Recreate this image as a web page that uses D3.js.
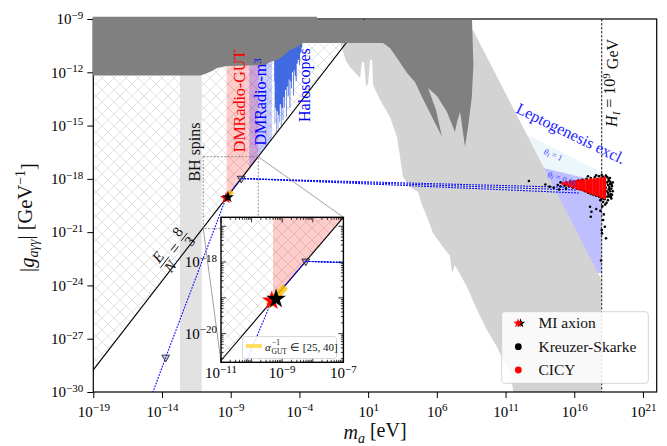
<!DOCTYPE html>
<html><head><meta charset="utf-8">
<script src="https://cdn.jsdelivr.net/npm/d3@7"></script>
<style>
body{margin:0;background:#fff}
svg{display:block}
text{font-family:'Liberation Serif','Times New Roman',serif}
</style>
</head><body><div id="chart"></div>
<script>
// All values are log10: x = log10(m_a / eV), y = log10(|g| / GeV^-1)
const xTicks = [-19,-14,-9,-4,1,6,11,16,21];
const yTicks = [-30,-27,-24,-21,-18,-15,-12,-9];
const insetXTicks = [-11,-9,-7];
const insetYTicks = [-20,-18];

// E/N = 8/3 QCD axion line: log g = log m - 9.75
const enLine = [[-19,-28.75],[1.5,-8.25]];
const hatchRegion = [[-19,-28.75],[1.5,-8.25],[-19,-8.25]];

// Excluded regions
const darkGray = [[-19.05,-8.87],[-2.72,-8.87],[-2.72,-9.04],[8.56,-9.04],[8.66,-11.59],[8.54,-13.45],[8.29,-14.97],[8.05,-16.21],[7.83,-14.97],[7.69,-14.24],[7.47,-14.80],[7.32,-15.36],[6.74,-14.24],[6.01,-13.34],[5.36,-12.89],[5.94,-14.12],[6.38,-15.64],[5.65,-14.52],[4.92,-13.39],[4.41,-12.55],[3.83,-12.04],[3.1,-11.2],[2.59,-10.63],[2.08,-10.35],[-3.74,-10.35],[-4.17,-10.58],[-4.68,-10.75],[-5.27,-11.14],[-5.63,-11.31],[-6.14,-11.42],[-6.5,-11.59],[-9.27,-11.65],[-10.0,-11.76],[-10.36,-11.93],[-10.87,-12.1],[-11.23,-12.18],[-19.05,-12.18]];
const lightGray = [[-0.97,-10.18],[8.63,-9.62],[17.95,-23.64],[17.95,-30.5],[11.69,-30.5],[11.33,-28.93],[10.82,-28.2],[10.38,-27.47],[9.65,-26.51],[8.93,-25.39],[8.2,-24.09],[7.32,-22.85],[7.11,-23.3],[6.96,-22.34],[6.45,-21.84],[5.72,-21.05],[5.29,-20.15],[4.92,-19.47],[4.63,-18.74],[4.05,-18.46],[3.54,-17.9],[3.32,-16.77],[3.1,-15.64],[2.59,-14.52],[1.87,-13.56],[1.36,-12.72],[1.29,-11.31],[1.14,-11.31],[0.99,-12.66],[0.85,-12.77],[0.70,-11.42],[0.56,-11.42],[0.41,-12.32],[-0.32,-11.7],[-0.61,-11.36],[-0.97,-10.46]];
// haloscope limits as a stepped outline (mass, coupling reached until the next mass)
const haloscopes = [[-5.84,-10.3],[-5.84,-12.5],[-5.80,-14.9],[-5.76,-14.0],[-5.70,-15.4],[-5.66,-14.2],[-5.58,-15.2],[-5.54,-14.4],[-5.47,-14.8],[-5.43,-13.8],[-5.35,-15.0],[-5.30,-14.0],[-5.22,-14.7],[-5.17,-13.4],[-5.10,-14.0],[-5.05,-13.0],[-4.97,-14.5],[-4.92,-12.8],[-4.85,-13.3],[-4.78,-12.4],[-4.72,-14.0],[-4.66,-12.5],[-4.60,-12.9],[-4.54,-12.0],[-4.47,-13.3],[-4.41,-11.9],[-4.35,-12.2],[-4.27,-12.5],[-4.20,-11.5],[-4.12,-11.3],[-4.02,-11.6],[-3.95,-10.9],[-3.85,-10.6],[-3.80,-10.3]];
const bhSpins = [-12.69,-11.11];
const dmradioGUT = [[-9.3,-11.3],[-7.0,-11.3],[-7.0,-16.75],[-9.3,-19.05]];
const dmradioM3 = [[-7.65,-11.3],[-6.0,-11.3],[-6.0,-15.75],[-7.65,-17.4]];
const leptoTheta1 = [[12.0,-15.28],[18.0,-17.64],[18.0,-18.18],[13.0,-17.25]];
const leptoTheta001 = [[13.0,-17.25],[18.0,-18.18],[18.0,-23.3],[17.5,-23.3]];
const hubbleMass = 18;

// MI axion trajectory
const steepPath = [[-14.75,-30.2],[-13.73,-28.05],[-9.35,-19.1]];
const diagPath = [[-9.35,-19.1],[-8.23,-17.98]];
const flatPaths = [
  [[-8.23,-17.98],[16.42,-18.8]],
  [[-8.23,-17.98],[16.2,-18.63]],
  [[-8.23,-17.98],[15.83,-18.48]]
];
const triMarkers = [[-13.73,-28.05],[-8.23,-17.98]];
const miAxion = [-9.34,-19.08];
const miAxionAlt = [-9.2,-19.03];
const gutRange = [[-9.45,-19.22],[-8.9,-18.68]];

// Kreuzer-Skarke points
const ksPoints = [[16.0,-18.15],[16.3,-18.1],[16.6,-18.05],[16.9,-18.0],[17.2,-17.95],[17.5,-17.9],[17.8,-17.85],[18.1,-17.88],[18.4,-17.9],[18.6,-17.95],[17.0,-17.85],[17.6,-17.8],[18.0,-17.78],[18.3,-17.82],
[18.5,-18.1],[18.65,-18.25],[18.75,-18.4],[18.7,-18.55],[18.8,-18.7],[18.65,-18.85],[18.55,-19.0],[18.7,-19.1],[18.45,-19.2],[18.35,-19.35],[18.6,-18.3],[18.5,-18.6],[18.45,-18.8],[18.55,-18.45],[18.4,-18.2],[18.4,-19.0],[18.3,-18.5],[18.35,-18.7],
[18.5,-18.0],[18.6,-18.15],[18.7,-18.3],[18.6,-18.7],[18.5,-18.9],[18.45,-18.35],[18.55,-18.55],[18.65,-19.0],[18.75,-18.9],[18.8,-18.2],
[18.2,-19.15],[18.0,-19.1],[17.8,-19.0],[17.6,-18.95],[17.4,-18.9],[17.2,-18.85],[17.0,-18.78],[16.8,-18.7],[16.6,-18.62],[16.4,-18.58],[16.2,-18.55],[15.9,-18.5],[18.1,-19.3],[17.9,-19.2],[18.25,-19.45],[18.05,-19.55],
[15.6,-18.4],[15.3,-18.38],[15.0,-18.42],[14.8,-18.35],[14.5,-18.5],[14.2,-18.44],[13.9,-18.32],[12.7,-18.12],[15.4,-18.55],[14.9,-18.6],[15.7,-18.15],[15.0,-18.2],
[17.15,-19.57],[17.25,-19.85],[17.2,-20.13],[18.1,-20.32],[18.23,-20.7],[18.0,-20.88],[18.02,-21.07],[18.31,-21.35],[17.6,-19.7],[17.9,-19.8],[18.15,-20.0],[17.95,-22.6]];

// CICY points, grouped by mass column
const cicyCols = [
 [15.2,[-18.26]],
 [15.45,[-18.22,-18.31]],
 [15.7,[-18.2,-18.29,-18.38]],
 [15.95,[-18.18,-18.27,-18.36,-18.45]],
 [16.2,[-18.15,-18.24,-18.33,-18.42,-18.51]],
 [16.45,[-18.13,-18.22,-18.31,-18.4,-18.49,-18.57]],
 [16.7,[-18.11,-18.2,-18.29,-18.38,-18.47,-18.56,-18.64]],
 [16.95,[-18.09,-18.18,-18.27,-18.36,-18.45,-18.54,-18.63,-18.71]],
 [17.2,[-18.06,-18.15,-18.24,-18.33,-18.42,-18.51,-18.6,-18.69,-18.78]],
 [17.45,[-18.04,-18.13,-18.22,-18.31,-18.4,-18.49,-18.58,-18.67,-18.76,-18.85]],
 [17.7,[-18.02,-18.11,-18.2,-18.29,-18.38,-18.47,-18.56,-18.65,-18.74,-18.83,-18.92]],
 [17.95,[-18.0,-18.09,-18.18,-18.27,-18.36,-18.45,-18.54,-18.63,-18.72,-18.81,-18.9,-18.99]],
 [18.2,[-17.98,-18.07,-18.16,-18.25,-18.34,-18.43,-18.52,-18.61,-18.7,-18.79,-18.88,-18.97,-19.05]]
];
const cicyPoints = cicyCols.flatMap(([m, gs]) => gs.map(g => [m, g]));

const legendItems = ["MI axion","Kreuzer-Skarke","CICY"];

// ---------------------------------------------------------------
const W = 667, H = 446;
const FS = "'Liberation Serif','Times New Roman',serif";
const svg = d3.select("#chart").append("svg").attr("width",W).attr("height",H);
svg.append("rect").attr("width",W).attr("height",H).attr("fill","#fff");

const x = d3.scaleLinear().domain([-19,22]).range([93.3,656.7]);
const y = d3.scaleLinear().domain([-30,-9]).range([392,19]);
const xi = d3.scaleLinear().domain([-11,-7]).range([221,343.4]);
const yi = d3.scaleLinear().domain([-20.8,-16.75]).range([362.3,217.3]);

const defs = svg.append("defs");
const pat = defs.append("pattern").attr("id","xhatch").attr("patternUnits","userSpaceOnUse")
  .attr("width",12).attr("height",12);
pat.append("path").attr("d","M0,0L12,12M12,0L0,12M-1,11L1,13M11,-1L13,1M-1,1L1,-1M11,13L13,11")
  .attr("stroke","#d6d6d6").attr("stroke-width",0.7).attr("fill","none");
defs.append("clipPath").attr("id","clipMain").append("rect")
  .attr("x",x(-19)).attr("y",y(-9)).attr("width",x(22)-x(-19)).attr("height",y(-30)-y(-9));
defs.append("clipPath").attr("id","clipDark").append("rect")
  .attr("x",x(-19)-1).attr("y",y(-9)-4).attr("width",x(22)-x(-19)+1).attr("height",y(-30)-y(-9)+4);
defs.append("clipPath").attr("id","clipInset").append("rect")
  .attr("x",xi(-11)).attr("y",yi(-16.75)).attr("width",xi(-7)-xi(-11)).attr("height",yi(-20.8)-yi(-16.75));

function pathGen(sx, sy){ return d3.line().x(d=>sx(d[0])).y(d=>sy(d[1])); }
const L = pathGen(x,y), Li = pathGen(xi,yi);
const Lstep = pathGen(x,y).curve(d3.curveStepAfter);
const poly = (gen, pts) => gen(pts) + "Z";

const plot = svg.append("g").attr("clip-path","url(#clipMain)");

plot.append("path").attr("d",poly(L,hatchRegion)).attr("fill","url(#xhatch)");
plot.append("rect").attr("x",x(bhSpins[0])).attr("width",x(bhSpins[1])-x(bhSpins[0]))
  .attr("y",y(-11.9)).attr("height",y(-30.5)-y(-11.9)).attr("fill","#e2e2e2");
plot.append("path").attr("d",poly(L,dmradioGUT)).attr("fill","red").attr("fill-opacity",0.2);
plot.append("path").attr("d",poly(L,dmradioM3)).attr("fill","blue").attr("fill-opacity",0.2);
plot.append("path").attr("d",poly(L,leptoTheta1)).attr("fill","lightblue").attr("fill-opacity",0.22);
plot.append("path").attr("d",poly(L,leptoTheta001)).attr("fill","blue").attr("fill-opacity",0.25);
plot.append("path").attr("d",poly(L,lightGray)).attr("fill","#d3d3d3");
plot.append("path").attr("d",L(enLine)).attr("stroke","#000").attr("stroke-width",1.1).attr("fill","none");
plot.append("path").attr("d",poly(Lstep,haloscopes)).attr("fill","#4169e1");
plot.append("line").attr("x1",x(hubbleMass)).attr("x2",x(hubbleMass)).attr("y1",y(-9)).attr("y2",y(-30))
  .attr("stroke","#000").attr("stroke-width",0.9).attr("stroke-dasharray","2.5,1.5");

// frame and axes
svg.append("rect").attr("x",x(-19)).attr("y",y(-9)).attr("width",x(22)-x(-19)).attr("height",y(-30)-y(-9))
  .attr("fill","none").attr("stroke","#000").attr("stroke-width",1.2);

function supLabel(sel){
  sel.each(function(d){
    const t = d3.select(this); t.text(null);
    t.append("tspan").text("10");
    t.append("tspan").attr("dy","-0.5em").attr("font-size","11px").text(d<0 ? "\u2212"+(-d) : String(d));
  });
}
const gx = svg.append("g").attr("transform",`translate(0,${y(-30)})`)
  .call(d3.axisBottom(x).tickValues(xTicks).tickSize(6).tickPadding(8).tickFormat(d=>d));
gx.select(".domain").remove();
gx.attr("font-family",FS).attr("font-size",15);
gx.selectAll(".tick line").attr("stroke-width",1);
gx.selectAll(".tick text").attr("fill","#000").call(supLabel);

const gy = svg.append("g").attr("transform",`translate(${x(-19)},0)`)
  .call(d3.axisLeft(y).tickValues(yTicks).tickSize(6).tickPadding(4).tickFormat(d=>d));
gy.select(".domain").remove();
gy.attr("font-family",FS).attr("font-size",15);
gy.selectAll(".tick line").attr("stroke-width",1);
gy.selectAll(".tick text").attr("fill","#000").call(supLabel);

// dark gray bound drawn above the frame corner
svg.append("g").attr("clip-path","url(#clipDark)")
  .append("path").attr("d",poly(L,darkGray)).attr("fill","#808080");

// MI axion trajectory
const traj = svg.append("g").attr("clip-path","url(#clipMain)");
function drawTrajectory(g, gen, sx, sy, gold){
  [steepPath, diagPath, ...flatPaths].forEach(p=>{
    g.append("path").attr("d",gen(p)).attr("fill","none").attr("stroke","blue")
      .attr("stroke-width",1.05).attr("stroke-dasharray","1.8,1.2");
  });
  triMarkers.forEach(p=>{
    g.append("path").attr("d",d3.symbol().type(d3.symbolTriangle).size(26)())
      .attr("transform",`translate(${sx(p[0])},${sy(p[1])}) rotate(180)`)
      .attr("fill","rgba(90,90,170,0.35)").attr("stroke","#223").attr("stroke-width",0.9);
  });
  g.append("path").attr("d",gen(gutRange)).attr("stroke","#ffbf00").attr("stroke-opacity",0.8)
    .attr("stroke-width",gold).attr("fill","none");
}
drawTrajectory(traj, L, x, y, 5);

// string-theory axion points
traj.selectAll("circle.ks").data(ksPoints).join("circle").attr("class","ks")
  .attr("cx",d=>x(d[0])).attr("cy",d=>y(d[1])).attr("r",1.3).attr("fill","#000");
traj.selectAll("circle.cicy").data(cicyPoints).join("circle").attr("class","cicy")
  .attr("cx",d=>x(d[0])).attr("cy",d=>y(d[1])).attr("r",1.8).attr("fill","#ff0000");

function stars(g, sx, sy, size){
  g.append("path").attr("d",d3.symbol().type(d3.symbolStar).size(size)())
    .attr("transform",`translate(${sx(miAxion[0])},${sy(miAxion[1])})`).attr("fill","red");
  g.append("path").attr("d",d3.symbol().type(d3.symbolStar).size(size)())
    .attr("transform",`translate(${sx(miAxionAlt[0])},${sy(miAxionAlt[1])})`).attr("fill","#000");
}
stars(traj, x, y, 45);

// region labels
function rotText(px, py, ang, size, color, parts, anchor){
  const t = svg.append("text").attr("transform",`translate(${px},${py}) rotate(${ang})`)
    .attr("text-anchor",anchor||"middle").attr("font-size",size).attr("fill",color);
  parts.forEach(p=>{
    const s = t.append("tspan").text(p.t);
    if(p.dy) s.attr("dy",p.dy);
    if(p.fs) s.attr("font-size",p.fs);
    if(p.it) s.attr("font-style","italic");
  });
  return t;
}
rotText(x(-11.22), y(-16.49), -90, 16, "#111", [{t:"BH spins"}]);
rotText(x(-7.96), y(-13.62), -90, 16, "#ff0000", [{t:"DMRadio-GUT"}]);
rotText(x(-6.43), y(-13.67), -90, 16, "#0000ff", [{t:"DMRadio-m"},{t:"3",dy:"-0.45em",fs:11}]);
rotText(x(-3.23), y(-12.72), -90, 16, "#0000ff", [{t:"Haloscopes"}]);
rotText(x(19.1), y(-12.6), -90, 16, "#111",
  [{t:"H",it:1},{t:"I",it:1,fs:11,dy:"0.3em"},{t:" = 10",dy:"-0.3em"},{t:"9",fs:11,dy:"-0.45em"},{t:" GeV",dy:"0.45em"}]);
rotText(x(15.77), y(-15.42), 26, 16, "#1a1aff", [{t:"Leptogenesis excl."}]).attr("dominant-baseline","central");
rotText(x(14.46), y(-16.66), 25, 8.5, "#3a3aff",
  [{t:"θ",it:1},{t:"I",it:1,fs:6,dy:"0.3em"},{t:" = 1",dy:"-0.3em"}]).attr("dominant-baseline","central");
rotText(x(15.11), y(-18.02), 20, 8.5, "#3a3aff",
  [{t:"θ",it:1},{t:"I",it:1,fs:6,dy:"0.3em"},{t:" = 0.01",dy:"-0.3em"}]).attr("dominant-baseline","central");

// E/N = 8/3 fraction label along the line
const frac = svg.append("g").attr("transform",`translate(${x(-13.1)},${y(-21.9)}) rotate(-52.3)`)
  .attr("font-size",15).attr("fill","#111");
frac.append("text").attr("x",-17).attr("y",-2.5).attr("text-anchor","middle").attr("font-style","italic").text("E");
frac.append("line").attr("x1",-24).attr("x2",-10).attr("y1",1).attr("y2",1).attr("stroke","#111").attr("stroke-width",0.9);
frac.append("text").attr("x",-17).attr("y",13).attr("text-anchor","middle").attr("font-style","italic").text("N");
frac.append("text").attr("x",0).attr("y",6).attr("text-anchor","middle").attr("font-size",17).text("=");
frac.append("text").attr("x",15).attr("y",-2.5).attr("text-anchor","middle").text("8");
frac.append("line").attr("x1",10).attr("x2",20).attr("y1",1).attr("y2",1).attr("stroke","#111").attr("stroke-width",0.9);
frac.append("text").attr("x",15).attr("y",13).attr("text-anchor","middle").text("3");

// axis titles
const yl = svg.append("text").attr("transform",`translate(34,${(y(-9)+y(-30))/2+12}) rotate(-90)`)
  .attr("text-anchor","middle").attr("font-size",20.5).attr("fill","#111");
yl.append("tspan").text("|");
yl.append("tspan").attr("font-style","italic").text("g");
yl.append("tspan").attr("font-style","italic").attr("font-size",14).attr("dy","0.3em").text("aγγ");
yl.append("tspan").attr("dy","-0.3em").text("| [GeV");
yl.append("tspan").attr("font-size",14).attr("dy","-0.5em").text("\u22121");
yl.append("tspan").attr("dy","0.5em").text("]");

const xl = svg.append("text").attr("x",(x(-19)+x(22))/2).attr("y",439)
  .attr("text-anchor","middle").attr("font-size",20).attr("fill","#111");
xl.append("tspan").attr("font-style","italic").text("m");
xl.append("tspan").attr("font-style","italic").attr("font-size",14).attr("dy","0.3em").text("a");
xl.append("tspan").attr("dy","-0.3em").text(" [eV]");

// zoom box and connectors
svg.append("rect").attr("x",x(-11)).attr("y",y(-16.75)).attr("width",x(-7)-x(-11)).attr("height",y(-20.8)-y(-16.75))
  .attr("fill","none").attr("stroke","#777").attr("stroke-width",0.8).attr("stroke-dasharray","2,1.5");
svg.append("line").attr("x1",x(-7)).attr("y1",y(-16.75)).attr("x2",xi(-7)).attr("y2",yi(-16.75))
  .attr("stroke","#888").attr("stroke-width",0.8);
svg.append("line").attr("x1",x(-11)).attr("y1",y(-20.8)).attr("x2",xi(-11)).attr("y2",yi(-20.8))
  .attr("stroke","#888").attr("stroke-width",0.8);

// ---------- inset ----------
svg.append("rect").attr("x",xi(-11)).attr("y",yi(-16.75)).attr("width",xi(-7)-xi(-11)).attr("height",yi(-20.8)-yi(-16.75))
  .attr("fill","#fff");
const ins = svg.append("g").attr("clip-path","url(#clipInset)");
ins.append("path").attr("d",poly(Li,hatchRegion)).attr("fill","url(#xhatch)");
ins.append("path").attr("d",poly(Li,dmradioGUT)).attr("fill","red").attr("fill-opacity",0.2);
ins.append("path").attr("d",Li(enLine)).attr("stroke","#000").attr("stroke-width",1.1).attr("fill","none");
drawTrajectory(ins, Li, xi, yi, 7);
stars(ins, xi, yi, 120);

// inset ticks (inward, all sides)
const tk = svg.append("g").attr("stroke","#000").attr("stroke-width",0.8);
const x0 = xi(-11), x1 = xi(-7), y0 = yi(-16.75), y1 = yi(-20.8);
const minorK = d3.range(1,10);
for(let dec=-11; dec<-7; dec++){
  minorK.forEach(k=>{
    const v = dec + Math.log10(k); const len = k===1 ? 5 : 2.5; const px = xi(v);
    tk.append("line").attr("x1",px).attr("x2",px).attr("y1",y1).attr("y2",y1-len);
    tk.append("line").attr("x1",px).attr("x2",px).attr("y1",y0).attr("y2",y0+len);
  });
}
for(let dec=-21; dec<-16; dec++){
  minorK.forEach(k=>{
    const v = dec + Math.log10(k); if(v < -20.8 || v > -16.75) return;
    const len = k===1 ? 5 : 2.5; const py = yi(v);
    tk.append("line").attr("y1",py).attr("y2",py).attr("x1",x0).attr("x2",x0+len);
    tk.append("line").attr("y1",py).attr("y2",py).attr("x1",x1).attr("x2",x1-len);
  });
}
svg.append("rect").attr("x",x0).attr("y",y0).attr("width",x1-x0).attr("height",y1-y0)
  .attr("fill","none").attr("stroke","#000").attr("stroke-width",1.4);

svg.append("g").selectAll("text").data(insetXTicks).join("text")
  .attr("x",d=>xi(d)).attr("y",378).attr("text-anchor","middle").attr("font-size",15).attr("fill","#000")
  .call(supLabel);
svg.append("g").selectAll("text").data(insetYTicks).join("text")
  .attr("x",x0-4).attr("y",d=>yi(d)+5).attr("text-anchor","end").attr("font-size",15).attr("fill","#000")
  .call(supLabel);

// inset legend
svg.append("rect").attr("x",242.5).attr("y",336.5).attr("width",94).attr("height",22).attr("rx",2.5)
  .attr("fill","#fff").attr("fill-opacity",0.85).attr("stroke","#cfcfcf").attr("stroke-width",0.8);
svg.append("line").attr("x1",246).attr("x2",262).attr("y1",346).attr("y2",346)
  .attr("stroke","#ffd84a").attr("stroke-opacity",0.85).attr("stroke-width",4);
const il = svg.append("g").attr("font-size",11).attr("fill","#111");
il.append("text").attr("x",265).attr("y",350.5).attr("font-style","italic").text("α");
il.append("text").attr("x",272).attr("y",345).attr("font-size",7.5).text("\u22121");
il.append("text").attr("x",271.5).attr("y",353.5).attr("font-size",7.5).text("GUT");
il.append("text").attr("x",290).attr("y",350.5).text("∈ [25, 40]");

// ---------- main legend ----------
const lg = svg.append("g");
lg.append("rect").attr("x",501.7).attr("y",311.7).attr("width",146.6).attr("height",71.6).attr("rx",3)
  .attr("fill","#fff").attr("fill-opacity",0.85).attr("stroke","#cccccc").attr("stroke-width",0.8);
const rowY = [323.3, 346.7, 370];
lg.append("path").attr("d",d3.symbol().type(d3.symbolStar).size(28)())
  .attr("transform",`translate(520.5,${rowY[0]})`).attr("fill","#000");
lg.append("path").attr("d",d3.symbol().type(d3.symbolStar).size(28)())
  .attr("transform",`translate(518,${rowY[0]})`).attr("fill","red");
lg.append("circle").attr("cx",518.3).attr("cy",rowY[1]).attr("r",3.4).attr("fill","#000");
lg.append("circle").attr("cx",518.3).attr("cy",rowY[2]).attr("r",3.4).attr("fill","red");
lg.selectAll("text").data(legendItems).join("text")
  .attr("x",538.5).attr("y",(d,i)=>rowY[i]+5).attr("font-size",15.5).attr("fill","#111").text(d=>d);
</script>
</body></html>
